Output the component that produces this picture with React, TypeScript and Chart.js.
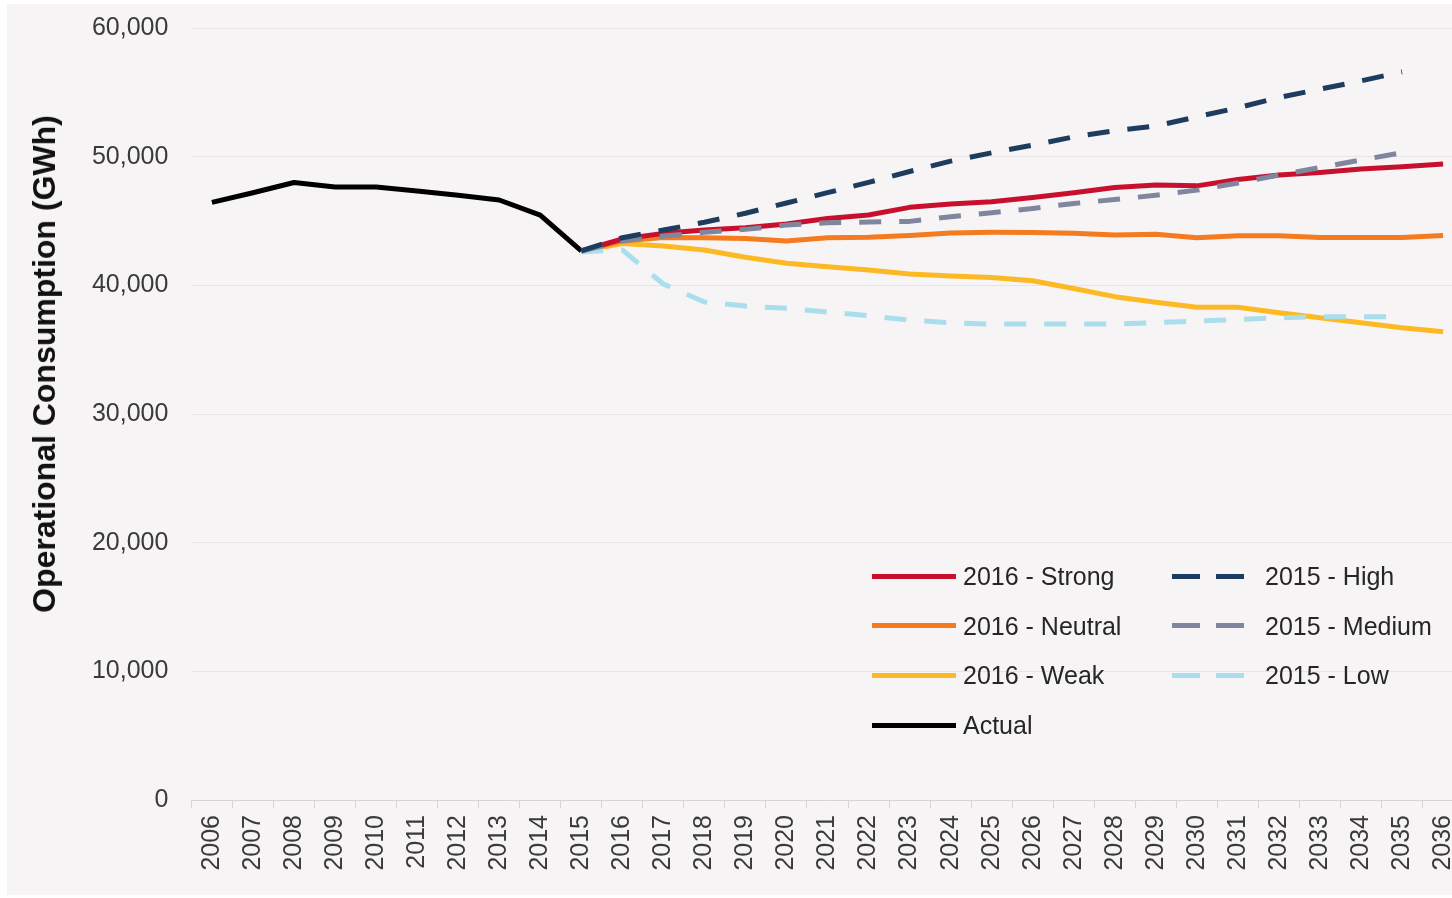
import React, { useEffect, useRef } from 'react';
import { Chart, registerables } from 'chart.js';
Chart.register(...registerables);

const years = ['2006','2007','2008','2009','2010','2011','2012','2013','2014','2015','2016','2017','2018','2019','2020','2021','2022','2023','2024','2025','2026','2027','2028','2029','2030','2031','2032','2033','2034','2035','2036'];

const yTickValues = [0, 10000, 20000, 30000, 40000, 50000, 60000];

const actual = [46450, 47200, 47990, 47650, 47640, 47330, 47000, 46630, 45460, 42670, null, null, null, null, null, null, null, null, null, null, null, null, null, null, null, null, null, null, null, null, null];
const strong2016 = [null, null, null, null, null, null, null, null, null, 42670, 43600, 44040, 44300, 44470, 44770, 45200, 45460, 46060, 46320, 46490, 46830, 47190, 47600, 47790, 47730, 48230, 48570, 48770, 49040, 49210, 49430];
const neutral2016 = [null, null, null, null, null, null, null, null, null, 42670, 43450, 43720, 43690, 43640, 43450, 43690, 43740, 43880, 44070, 44120, 44100, 44050, 43920, 43970, 43690, 43850, 43850, 43720, 43720, 43720, 43880];
const weak2016 = [null, null, null, null, null, null, null, null, null, 42670, 43250, 43060, 42750, 42180, 41710, 41450, 41190, 40880, 40720, 40600, 40350, 39760, 39120, 38680, 38290, 38290, 37870, 37480, 37090, 36700, 36390];
const high2015 = [null, null, null, null, null, null, null, null, null, 42670, 43700, 44300, 44900, 45600, 46400, 47200, 48000, 48850, 49650, 50300, 50900, 51540, 52010, 52380, 53100, 53800, 54600, 55250, 55890, 56590, null];
const medium2015 = [null, null, null, null, null, null, null, null, null, 42670, 43450, 43830, 44120, 44350, 44680, 44860, 44920, 44970, 45330, 45640, 45980, 46360, 46670, 47000, 47400, 47960, 48570, 49160, 49740, 50300, null];
const low2015 = [null, null, null, null, null, null, null, null, null, 42600, 42750, 40100, 38700, 38390, 38210, 37930, 37640, 37300, 37090, 36990, 36990, 36990, 36990, 37110, 37220, 37350, 37480, 37560, 37560, 37560, null];

const FONT = "'Liberation Sans', Arial, sans-serif";

const series = [
  { label: '2016 - Strong', data: strong2016, color: '#C8102E', dashed: false, order: 2 },
  { label: '2016 - Neutral', data: neutral2016, color: '#F47B20', dashed: false, order: 2 },
  { label: '2016 - Weak', data: weak2016, color: '#FDB924', dashed: false, order: 2 },
  { label: 'Actual', data: actual, color: '#000000', dashed: false, order: 1 },
  { label: '2015 - High', data: high2015, color: '#1E3D5E', dashed: true, order: 0 },
  { label: '2015 - Medium', data: medium2015, color: '#80869E', dashed: true, order: 0 },
  { label: '2015 - Low', data: low2015, color: '#ABDEEC', dashed: true, order: 0 },
];

const legendCol1 = ['2016 - Strong', '2016 - Neutral', '2016 - Weak', 'Actual'];
const legendCol2 = ['2015 - High', '2015 - Medium', '2015 - Low'];

function LegendItem({ name, left, top }: { name: string; left: number; top: number }) {
  const s = series.find((x) => x.label === name)!;
  const sample = s.dashed ? (
    <div style={{ position: 'absolute', left: 0, top: -2.5, width: 72, height: 5 }}>
      <div style={{ position: 'absolute', left: 0, top: 0, width: 28, height: 5, background: s.color }} />
      <div style={{ position: 'absolute', left: 44, top: 0, width: 28, height: 5, background: s.color }} />
    </div>
  ) : (
    <div style={{ position: 'absolute', left: 0, top: -2.5, width: 84, height: 5, background: s.color }} />
  );
  return (
    <div style={{ position: 'absolute', left, top }}>
      {sample}
      <div
        style={{
          position: 'absolute',
          left: s.dashed ? 93 : 91,
          top: -15,
          height: 30,
          lineHeight: '30px',
          fontFamily: FONT,
          fontSize: 25,
          color: '#262626',
          whiteSpace: 'nowrap',
        }}
      >
        {name}
      </div>
    </div>
  );
}

export default function App() {
  const ref = useRef<HTMLCanvasElement>(null);
  useEffect(() => {
    const canvas = ref.current!;
    const chart = new Chart(canvas, {
      type: 'line',
      data: {
        labels: years,
        datasets: series.map((s) => ({
          label: s.label,
          data: s.data,
          borderColor: s.color,
          backgroundColor: s.color,
          borderWidth: 5,
          borderDash: s.dashed ? [22, 18] : [],
          borderCapStyle: 'butt',
          borderJoinStyle: 'round',
          pointRadius: 0,
          tension: 0,
          fill: false,
          spanGaps: false,
          order: s.order,
        })),
      },
      options: {
        responsive: false,
        animation: false,
        devicePixelRatio: 1,
        layout: { padding: { top: 24, right: 13.4, bottom: 0, left: 0 } },
        plugins: { legend: { display: false }, tooltip: { enabled: false } },
        scales: {
          x: {
            offset: true,
            grid: { display: true, drawOnChartArea: false, tickLength: 8, color: '#d6d4d5', offset: true },
            border: { display: true, color: '#d6d4d5', width: 1 },
            ticks: {
              autoSkip: false,
              maxRotation: 90,
              minRotation: 90,
              padding: 7,
              color: '#3a3a3a',
              font: { family: FONT, size: 25 },
            },
            afterFit: (s: any) => {
              s.height = 95;
              s.paddingLeft = 0;
              s.paddingRight = 0;
            },
          },
          y: {
            min: 0,
            max: 60000,
            afterBuildTicks: (s: any) => {
              s.ticks = yTickValues.map((v) => ({ value: v }));
            },
            ticks: {
              padding: 23,
              color: '#3a3a3a',
              font: { family: FONT, size: 25 },
              callback: (v: any) => Number(v).toLocaleString('en-US'),
            },
            grid: { color: '#e6e4e5', lineWidth: 1, drawTicks: false },
            border: { display: false },
            afterFit: (s: any) => {
              s.width = 184.4;
              s.paddingTop = 0;
              s.paddingBottom = 0;
            },
          },
        },
      },
    } as any);
    return () => chart.destroy();
  }, []);

  return (
    <div style={{ position: 'fixed', left: 0, top: 0, width: 1452, height: 898, background: '#ffffff', overflow: 'hidden' }}>
      <div style={{ position: 'absolute', left: 7, top: 4, width: 1445, height: 891, background: '#f6f4f5', overflow: 'hidden' }}>
        <canvas ref={ref} width={1470} height={891} style={{ position: 'absolute', left: 0, top: 0, width: 1470, height: 891 }} />
      </div>
      <div
        style={{
          position: 'absolute',
          left: 44,
          top: 364,
          transform: 'translate(-50%, -50%) rotate(-90deg)',
          fontFamily: FONT,
          fontWeight: 'bold',
          fontSize: 32,
          lineHeight: '32px',
          color: '#111111',
          whiteSpace: 'nowrap',
        }}
      >
        Operational Consumption (GWh)
      </div>
      {legendCol1.map((n, i) => (
        <LegendItem key={n} name={n} left={872} top={576 + i * 49.7} />
      ))}
      {legendCol2.map((n, i) => (
        <LegendItem key={n} name={n} left={1172} top={576 + i * 49.7} />
      ))}
    </div>
  );
}
